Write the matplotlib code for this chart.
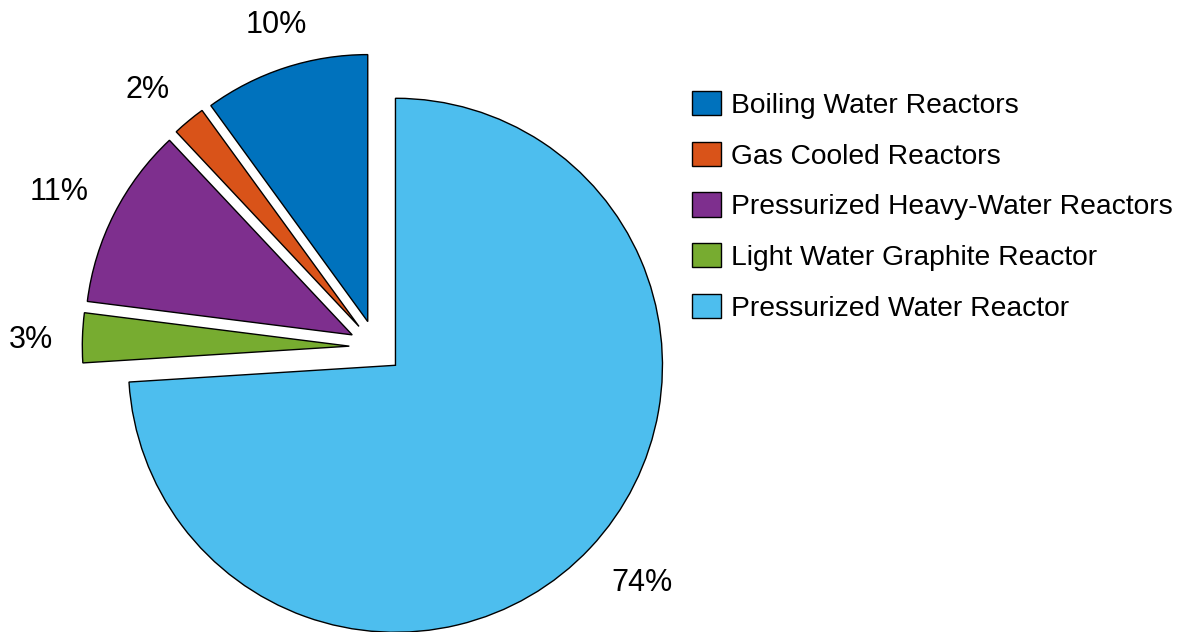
import numpy as np
import matplotlib.pyplot as plt

plt.rcParams['font.family'] = ['Liberation Sans', 'DejaVu Sans']

# reactor types and their share of the fleet (%)
reactors = ['Boiling Water Reactors', 'Gas Cooled Reactors',
            'Pressurized Heavy-Water Reactors', 'Light Water Graphite Reactor',
            'Pressurized Water Reactor']
shares = [10, 2, 11, 3, 74]
colors = ['#0072BD', '#D95319', '#7E2F8E', '#77AC30', '#4DBEEE']

W, H = 1187, 632
fig = plt.figure(figsize=(W / 100, H / 100), dpi=100)
ax = fig.add_axes([0, 0, 1, 1])

pct_labels = ['%d%%' % s for s in shares]
wedges, texts = ax.pie(shares, labels=pct_labels, colors=colors,
                       startangle=90, counterclock=True,
                       explode=[0.1] * len(shares), labeldistance=1.11,
                       wedgeprops=dict(edgecolor='black', linewidth=1.0),
                       textprops=dict(fontsize=22))

# align each percentage so its box sits just outside the wedge
for w, t in zip(wedges, texts):
    mid = np.deg2rad((w.theta1 + w.theta2) / 2)
    c, s = np.cos(mid), np.sin(mid)
    t.set_ha('center' if abs(c) < 0.4 else ('left' if c > 0 else 'right'))
    if abs(s) < 0.3:
        t.set_va('center_baseline')
    elif s > 0:
        t.set_va('bottom' if s > 0.9 else 'baseline')
    else:
        t.set_va('top')

# pie centre at (376, 347) px from top-left, radius 267 px
r_px = 267.0
cx, cy = 376.0, 347.0
ax.set_xlim(-cx / r_px, (W - cx) / r_px)
ax.set_ylim(-(H - cy) / r_px, cy / r_px)
ax.set_aspect('equal')
ax.axis('off')

fig.legend(wedges, reactors, loc='upper left',
           bbox_to_anchor=(678 / W, 1 - 77 / H), frameon=False,
           fontsize=20.3, handlelength=1.04, handleheight=0.95,
           handletextpad=0.35, labelspacing=0.81, borderpad=0)

fig.savefig('out.png', dpi=100)
